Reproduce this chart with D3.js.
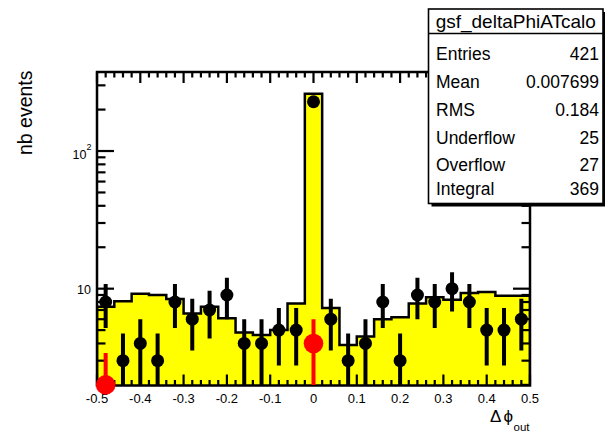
<!DOCTYPE html>
<html>
<head>
<meta charset="utf-8">
<script src="https://cdn.jsdelivr.net/npm/d3@7/dist/d3.min.js"></script>
<style>
  html, body { margin: 0; padding: 0; background: #ffffff; }
  svg { display: block; }
  text { font-family: "Liberation Sans", Arial, Helvetica, sans-serif; fill: #000; }
</style>
</head>
<body>
<svg id="chart" width="605" height="432"></svg>
<script>
// Bin centres of the delta-phi histogram (25 bins of width 0.04 on [-0.5, 0.5])
const binCenters = [-0.48, -0.44, -0.40, -0.36, -0.32, -0.28, -0.24, -0.20, -0.16, -0.12,
                    -0.08, -0.04, 0.00, 0.04, 0.08, 0.12, 0.16, 0.20, 0.24, 0.28,
                    0.32, 0.36, 0.40, 0.44, 0.48];
const binWidth = 0.04;

// Reference histogram (yellow filled)
const refHeights = [7.4, 8.1, 9.2, 9.0, 8.4, 6.6, 7.4, 6.1, 4.8, 4.6,
                    5.0, 7.8, 261, 7.25, 3.9, 4.5, 6.0, 6.2, 7.8, 8.65,
                    8.3, 9.3, 9.45, 8.9, 8.9];

// Measured counts (black markers)
const dataCounts = [8, 3, 4, 3, 8, 6, 7, 9, 4, 4,
                    5, 5, 228, 6, 3, 4, 8, 3, 9, 8,
                    10, 8, 5, 5, 6];

// Second sample (red markers), only two filled bins
const redCenters = [-0.48, 0.00];
const redCounts = [2, 4];

// Axis ranges and ticks
const xRange = [-0.5, 0.5];
const yRange = [1.98, 375];
const xMajorTicks = [-0.5, -0.4, -0.3, -0.2, -0.1, 0, 0.1, 0.2, 0.3, 0.4, 0.5];
const xTickLabels = ["-0.5", "-0.4", "-0.3", "-0.2", "-0.1", "0", "0.1", "0.2", "0.3", "0.4", "0.5"];
const xMinorTicks = [-0.48, -0.46, -0.44, -0.42, -0.38, -0.36, -0.34, -0.32, -0.28, -0.26, -0.24, -0.22,
                     -0.18, -0.16, -0.14, -0.12, -0.08, -0.06, -0.04, -0.02, 0.02, 0.04, 0.06, 0.08,
                     0.12, 0.14, 0.16, 0.18, 0.22, 0.24, 0.26, 0.28, 0.32, 0.34, 0.36, 0.38,
                     0.42, 0.44, 0.46, 0.48];
const yMajorTicks = [10, 100];
const yMajorExponents = ["", "2"];
const yMinorTicks = [2, 3, 4, 5, 6, 7, 8, 9, 20, 30, 40, 50, 60, 70, 80, 90, 200, 300];

// Statistics box
const statsTitle = "gsf_deltaPhiATcalo";
const statsNames = ["Entries", "Mean", "RMS", "Underflow", "Overflow", "Integral"];
const statsValues = ["421", "0.007699", "0.184", "25", "27", "369"];

const svg = d3.select("#chart");
const frame = { left: 97, right: 530, top: 72, bottom: 385.5 };

const x = d3.scaleLinear().domain(xRange).range([frame.left, frame.right]);
const y = d3.scaleLog().domain(yRange).range([frame.bottom, frame.top]).clamp(true);

svg.append("rect").attr("width", 605).attr("height", 432).attr("fill", "#fff");

svg.append("defs").append("clipPath").attr("id", "plotClip")
  .append("rect")
  .attr("x", frame.left).attr("y", frame.top)
  .attr("width", frame.right - frame.left).attr("height", frame.bottom - frame.top);

// ---- Reference histogram: yellow fill and black outline
const bins = binCenters.map((c, i) => ({ lo: c - binWidth / 2, hi: c + binWidth / 2, v: refHeights[i] }));
const steps = [];
bins.forEach(b => { steps.push({ px: b.lo, v: b.v }); steps.push({ px: b.hi, v: b.v }); });

const area = d3.area()
  .x(d => x(d.px))
  .y0(frame.bottom)
  .y1(d => y(d.v));
const outline = d3.line()
  .x(d => x(d.px))
  .y(d => y(d.v));

const plot = svg.append("g").attr("clip-path", "url(#plotClip)");
plot.append("path").datum(steps).attr("d", area).attr("fill", "#ffff00");
plot.append("path")
  .datum([{ px: xRange[0], v: yRange[0] / 10 }, ...steps, { px: xRange[1], v: yRange[0] / 10 }])
  .attr("d", outline)
  .attr("fill", "none").attr("stroke", "#000").attr("stroke-width", 2.5)
  .attr("stroke-linejoin", "miter");

// ---- Frame and axes
const axes = svg.append("g").attr("stroke", "#000").attr("stroke-width", 2.2).attr("fill", "none");
axes.append("rect")
  .attr("x", frame.left).attr("y", frame.top)
  .attr("width", frame.right - frame.left).attr("height", frame.bottom - frame.top)
  .attr("stroke-width", 2.5);

const xMajLen = 11, xMinLen = 5.5, yMajLen = 17, yMinLen = 8.5;

// bottom and top x ticks
xMajorTicks.forEach(t => {
  axes.append("line").attr("x1", x(t)).attr("x2", x(t)).attr("y1", frame.bottom).attr("y2", frame.bottom - xMajLen);
  axes.append("line").attr("x1", x(t)).attr("x2", x(t)).attr("y1", frame.top).attr("y2", frame.top + xMajLen);
});
xMinorTicks.forEach(t => {
  axes.append("line").attr("x1", x(t)).attr("x2", x(t)).attr("y1", frame.bottom).attr("y2", frame.bottom - xMinLen);
  axes.append("line").attr("x1", x(t)).attr("x2", x(t)).attr("y1", frame.top).attr("y2", frame.top + xMinLen);
});
// left and right y ticks
yMajorTicks.forEach(t => {
  axes.append("line").attr("x1", frame.left).attr("x2", frame.left + yMajLen).attr("y1", y(t)).attr("y2", y(t));
  axes.append("line").attr("x1", frame.right).attr("x2", frame.right - yMajLen).attr("y1", y(t)).attr("y2", y(t));
});
yMinorTicks.forEach(t => {
  axes.append("line").attr("x1", frame.left).attr("x2", frame.left + yMinLen).attr("y1", y(t)).attr("y2", y(t));
  axes.append("line").attr("x1", frame.right).attr("x2", frame.right - yMinLen).attr("y1", y(t)).attr("y2", y(t));
});

// x tick labels
svg.append("g").selectAll("text").data(xMajorTicks).join("text")
  .attr("x", d => x(d)).attr("y", 402.5)
  .attr("text-anchor", "middle").attr("font-size", 13)
  .text((d, i) => xTickLabels[i]);

// y tick labels (10, 10^2)
yMajorTicks.forEach((t, i) => {
  const exp = yMajorExponents[i];
  if (exp === "") {
    svg.append("text").attr("x", 91).attr("y", y(t) + 5)
      .attr("text-anchor", "end").attr("font-size", 12.5).text("10");
  } else {
    svg.append("text").attr("x", 86.5).attr("y", y(t) + 8)
      .attr("text-anchor", "end").attr("font-size", 12.5).text("10");
    svg.append("text").attr("x", 86.5).attr("y", y(t) - 1)
      .attr("font-size", 9).text(exp);
  }
});

// axis titles
svg.append("text")
  .attr("transform", "translate(31.5,70.5) rotate(-90)")
  .attr("text-anchor", "end").attr("font-size", 19.5)
  .text("nb events");

const xt = svg.append("text").attr("x", 490).attr("y", 422).attr("font-size", 17);
xt.append("tspan").text("Δ");
xt.append("tspan").attr("x", 503.5).text("ϕ");
xt.append("tspan").attr("x", 513.5).attr("y", 430.5).attr("font-size", 11.5).text("out");

// ---- Data markers with Poisson error bars
function drawPoints(centers, counts, color, radius, barWidth) {
  const g = svg.append("g");
  g.append("g").attr("clip-path", "url(#plotClip)")
    .selectAll("line").data(centers).join("line")
    .attr("x1", d => x(d)).attr("x2", d => x(d))
    .attr("y1", (d, i) => y(counts[i] + Math.sqrt(counts[i])))
    .attr("y2", (d, i) => y(Math.max(counts[i] - Math.sqrt(counts[i]), 1e-3)))
    .attr("stroke", color).attr("stroke-width", barWidth);
  g.selectAll("circle").data(centers).join("circle")
    .attr("cx", d => x(d))
    .attr("cy", (d, i) => y(counts[i]))
    .attr("r", radius)
    .attr("fill", color);
}
drawPoints(binCenters, dataCounts, "#000000", 6.5, 4);
drawPoints(redCenters, redCounts, "#ff0000", 9.8, 4);

// ---- Statistics box
const box = { left: 428.5, top: 9, right: 603, bottom: 203.5 };
const stats = svg.append("g");
stats.append("rect")
  .attr("x", box.left + 3).attr("y", box.top + 3)
  .attr("width", box.right - box.left).attr("height", box.bottom - box.top)
  .attr("fill", "#000");
stats.append("rect")
  .attr("x", box.left).attr("y", box.top)
  .attr("width", box.right - box.left).attr("height", box.bottom - box.top)
  .attr("fill", "#fff").attr("stroke", "#000").attr("stroke-width", 1.6);
stats.append("line")
  .attr("x1", box.left).attr("x2", box.right).attr("y1", 33.5).attr("y2", 33.5)
  .attr("stroke", "#000").attr("stroke-width", 1.6);
stats.append("text")
  .attr("x", (box.left + box.right) / 2).attr("y", 27.5)
  .attr("text-anchor", "middle").attr("font-size", 19)
  .text(statsTitle);

const rowBaselines = [59.5, 87.5, 115.5, 144, 171, 195];
stats.selectAll("text.name").data(statsNames).join("text")
  .attr("class", "name")
  .attr("x", 436).attr("y", (d, i) => rowBaselines[i])
  .attr("font-size", 17.5).text(d => d);
stats.selectAll("text.val").data(statsValues).join("text")
  .attr("class", "val")
  .attr("x", 599).attr("y", (d, i) => rowBaselines[i])
  .attr("text-anchor", "end").attr("font-size", 17.5).text(d => d);
</script>
</body>
</html>
